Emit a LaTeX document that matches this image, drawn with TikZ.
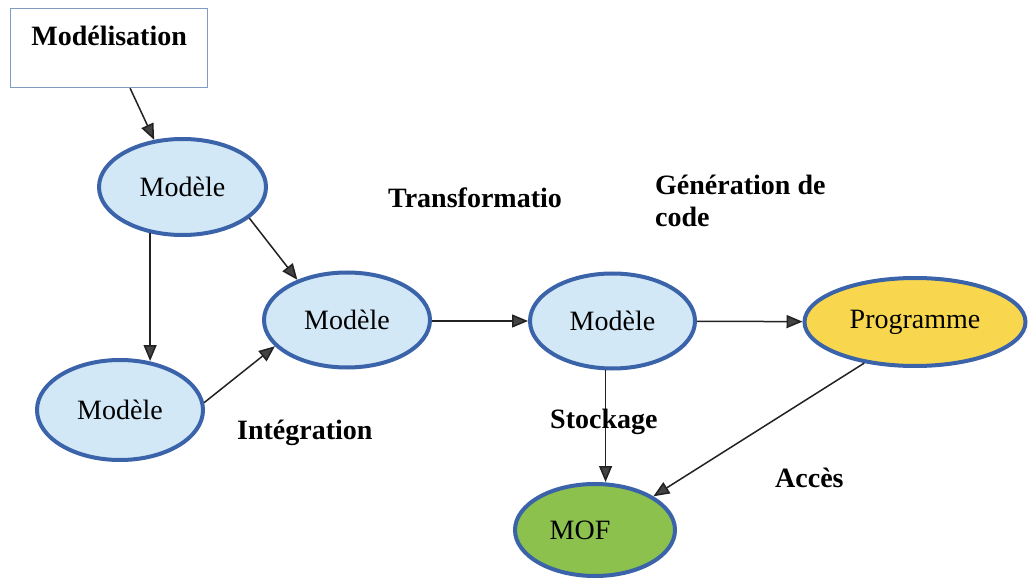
\documentclass[tikz,border=0pt]{standalone}
\usepackage{fontspec}
\setmainfont{Liberation Serif}
\usetikzlibrary{shapes.geometric,arrows.meta}
\definecolor{rim}{HTML}{3B63AA}
\definecolor{paleblue}{HTML}{D2E8F7}
\definecolor{sun}{HTML}{F8D74E}
\definecolor{leaf}{HTML}{8CC14E}
\definecolor{boxline}{HTML}{7F9CC0}
\definecolor{ink}{HTML}{222222}
\begin{document}
\begin{tikzpicture}[x=1pt,y=-1pt,
  oval/.style={ellipse,draw=rim,line width=4pt,fill=paleblue,inner sep=0pt,
    font=\fontsize{28}{32}\selectfont},
  caption/.style={font=\bfseries\fontsize{28}{32}\selectfont,inner sep=0pt,anchor=base west},
  arr/.style={draw=ink,line width=1.5pt,
    -{Triangle[length=16pt,width=13pt,fill=ink!85]}}]
\useasboundingbox (0,0) rectangle (1031,580);
\fill[white] (0,0) rectangle (1031,580);

% title box
\node[draw=boxline,line width=1.2pt,anchor=north west,minimum width=197pt,
  inner xsep=0pt,inner ysep=0pt,text height=37pt,text depth=42pt,
  font=\bfseries\fontsize{28}{32}\selectfont] (box) at (10,8) {Modélisation};

% model ellipses
\node[oval,minimum width=167pt,minimum height=96pt] (m1) at (182.5,187) {Modèle};
\node[oval,minimum width=166pt,minimum height=95pt] (m2) at (347,320) {Modèle};
\node[oval,minimum width=166pt,minimum height=100pt] (m3) at (120,410) {Modèle};
\node[oval,minimum width=165pt,minimum height=95pt] (m4) at (612.5,321) {Modèle};
\node[oval,fill=sun,minimum width=221pt,minimum height=88pt] (prog) at (915,322) {Programme};
\node[oval,fill=leaf,minimum width=160pt,minimum height=92pt] (mof) at (595,530) {\hspace*{-30pt}MOF};

% connectors
\draw[arr] ([xshift=21pt]box.south) -- (m1.121);
\draw[arr,shorten >=-3pt] (m1.235) -- (m1.235 |- m3.north);
\draw[arr] (m1.-25) -- (m2.141);
\draw[arr] (m3.5) -- (m2.200);
\draw[arr] (m2.east |- m4) -- (m4);
\draw[arr] (m4) -- (prog);
\draw[arr] (m4.262) -- (m4.262 |- mof.north);
\draw[arr] (prog.219) -- (mof.30);

% step captions
\node[caption] (t1) at (388,208) {Transformatio};
\node[caption] (t2) at (655,195) {Génération de};
\node[caption] (t3) at (655,227) {code};
\node[caption] (t4) at (237,439) {Intégration};
\node[caption] (t5) at (550,428) {Stockage};
\node[caption] (t6) at (775,487) {Accès};
\end{tikzpicture}
\end{document}
